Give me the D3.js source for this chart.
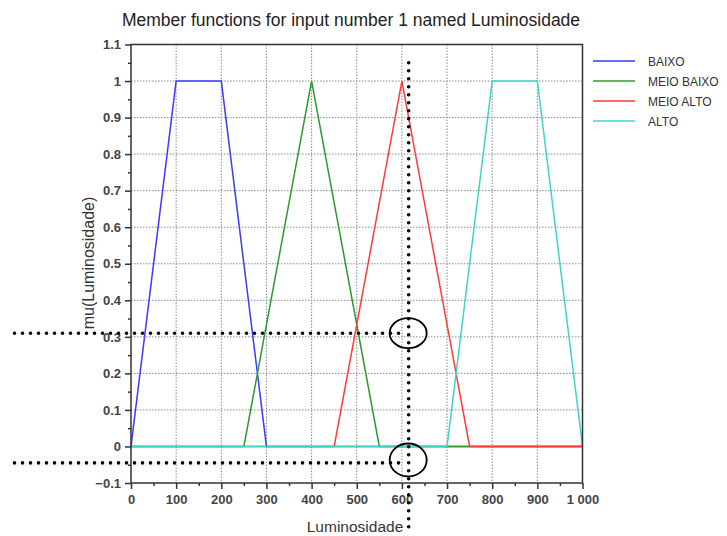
<!DOCTYPE html>
<html>
<head>
<meta charset="utf-8">
<script src="https://cdn.jsdelivr.net/npm/d3@7"></script>
<style>
  body { margin: 0; background: #fff; }
  svg { font-family: "Liberation Sans", Arial, sans-serif; }
</style>
</head>
<body>
<div id="chart"></div>
<script>
var width = 727,
    height = 536;

// member functions: breakpoints (x) and membership (mu)
var seriesNames = ["BAIXO", "MEIO BAIXO", "MEIO ALTO", "ALTO"];
var seriesColors = ["#3a3aff", "#2e9a2e", "#ff3a3a", "#3fd6c8"];
var baixoX = [0, 100, 200, 300, 1000],       baixoY = [0, 1, 1, 0, 0];
var meioBaixoX = [0, 250, 400, 550, 1000],   meioBaixoY = [0, 0, 1, 0, 0];
var meioAltoX = [0, 450, 600, 750, 1000],    meioAltoY = [0, 0, 1, 0, 0];
var altoX = [0, 700, 800, 900, 1000],        altoY = [0, 0, 1, 1, 0];

var xTicks = [0, 100, 200, 300, 400, 500, 600, 700, 800, 900, 1000];
var xTickLabels = ["0", "100", "200", "300", "400", "500", "600", "700", "800", "900", "1 000"];
var yTicks = [-0.1, 0, 0.1, 0.2, 0.3, 0.4, 0.5, 0.6, 0.7, 0.8, 0.9, 1, 1.1];

// hand drawn annotation (dotted guides + circles), in data units
var guideX = 615;
var guideYs = [0.31, -0.045];
var circleYs = [0.31, -0.037];

var margin = {left: 131, right: 144.5, top: 44.5, bottom: 53};

var svg = d3.select("#chart").append("svg")
    .attr("width", width)
    .attr("height", height);

var x = d3.scaleLinear().domain([0, 1000]).range([margin.left, width - margin.right]);
var y = d3.scaleLinear().domain([-0.1, 1.1]).range([height - margin.bottom, margin.top]);

var x0 = x(0), x1 = x(1000), y0 = y(-0.1), y1 = y(1.1);

/* Grid */
svg.append("g").selectAll("line")
    .data(xTicks.slice(1, -1))
    .enter().append("line")
    .attr("x1", function(d) { return x(d); })
    .attr("x2", function(d) { return x(d); })
    .attr("y1", y1).attr("y2", y0)
    .attr("stroke", "#8a8a8a")
    .attr("stroke-width", 1)
    .attr("stroke-dasharray", "1.5,1.5");

svg.append("g").selectAll("line")
    .data(yTicks.slice(1, -1))
    .enter().append("line")
    .attr("x1", x0).attr("x2", x1)
    .attr("y1", function(d) { return y(d); })
    .attr("y2", function(d) { return y(d); })
    .attr("stroke", "#8a8a8a")
    .attr("stroke-width", 1)
    .attr("stroke-dasharray", "1.5,1.5");

/* Curves */
var allSeries = [
    {x: baixoX, y: baixoY},
    {x: meioBaixoX, y: meioBaixoY},
    {x: meioAltoX, y: meioAltoY},
    {x: altoX, y: altoY}
];

var line = d3.line()
    .x(function(d) { return x(d[0]); })
    .y(function(d) { return y(d[1]); });

allSeries.forEach(function(s, i) {
    var pts = s.x.map(function(v, j) { return [v, s.y[j]]; });
    svg.append("path")
        .attr("d", line(pts))
        .attr("fill", "none")
        .attr("stroke", seriesColors[i])
        .attr("stroke-width", 1.5);
});

/* Axes */
var xAxis = d3.axisBottom(x)
    .tickValues(xTicks)
    .tickFormat(function(d, i) { return xTickLabels[i]; })
    .tickSize(6).tickPadding(6);
var xMinor = d3.axisBottom(x)
    .tickValues(d3.range(50, 1000, 100))
    .tickFormat("").tickSize(3);
var yAxis = d3.axisLeft(y)
    .tickValues(yTicks)
    .tickFormat(function(d) { return d3.format("")(+d.toFixed(1)); })
    .tickSize(6).tickPadding(4);
var yMinor = d3.axisLeft(y)
    .tickValues(d3.range(-0.05, 1.1, 0.1))
    .tickFormat("").tickSize(3);

function styleAxis(g) {
    g.select(".domain").remove();
    g.selectAll("line").attr("stroke", "#333").attr("stroke-width", 1.5);
    g.selectAll("text").attr("fill", "#444").style("font-size", "13px").style("font-weight", "bold");
}

svg.append("g").attr("transform", "translate(0," + y0 + ")").call(xAxis).call(styleAxis);
svg.append("g").attr("transform", "translate(0," + y0 + ")").call(xMinor).call(styleAxis);
svg.append("g").attr("transform", "translate(" + x0 + ",0)").call(yAxis).call(styleAxis);
svg.append("g").attr("transform", "translate(" + x0 + ",0)").call(yMinor).call(styleAxis);

// box
svg.append("rect")
    .attr("x", x0).attr("y", y1)
    .attr("width", x1 - x0).attr("height", y0 - y1)
    .attr("fill", "none")
    .attr("stroke", "#333")
    .attr("stroke-width", 1.5);

/* Titles */
svg.append("text")
    .attr("x", 351)
    .attr("y", 26)
    .attr("text-anchor", "middle")
    .style("font-size", "17.5px")
    .attr("fill", "#222")
    .text("Member functions for input number 1 named Luminosidade");

svg.append("text")
    .attr("x", 355)
    .attr("y", 532)
    .attr("text-anchor", "middle")
    .style("font-size", "15.5px")
    .attr("fill", "#333")
    .text("Luminosidade");

svg.append("text")
    .attr("transform", "translate(94,263) rotate(-90)")
    .attr("text-anchor", "middle")
    .style("font-size", "16px")
    .attr("fill", "#333")
    .text("mu(Luminosidade)");

/* Legend */
var legend = svg.append("g").selectAll("g")
    .data(seriesNames)
    .enter().append("g")
    .attr("transform", function(d, i) { return "translate(593," + (61 + i * 20) + ")"; });

legend.append("line")
    .attr("x1", 0).attr("x2", 42)
    .attr("stroke", function(d, i) { return seriesColors[i]; })
    .attr("stroke-width", 1.5);

legend.append("text")
    .attr("x", 55).attr("y", 4.5)
    .style("font-size", "12px")
    .attr("fill", "#333")
    .text(function(d) { return d; });

/* Annotation */
var dotted = svg.append("g")
    .attr("stroke", "#000")
    .attr("stroke-width", 3.6)
    .attr("stroke-linecap", "round")
    .attr("stroke-dasharray", "0,8");

dotted.append("line")
    .attr("x1", x(guideX)).attr("x2", x(guideX))
    .attr("y1", y(1.05)).attr("y2", y(-0.23));

dotted.selectAll(".h")
    .data(guideYs)
    .enter().append("line")
    .attr("class", "h")
    .attr("x1", x(-258)).attr("x2", x(600))
    .attr("y1", function(d) { return y(d); })
    .attr("y2", function(d) { return y(d); });

svg.append("g").selectAll("ellipse")
    .data(circleYs)
    .enter().append("ellipse")
    .attr("cx", x(guideX) - 0.5)
    .attr("cy", function(d) { return y(d); })
    .attr("rx", 18.5)
    .attr("ry", function(d, i) { return i === 0 ? 15 : 16.5; })
    .attr("fill", "none")
    .attr("stroke", "#000")
    .attr("stroke-width", 1.8);
</script>
</body>
</html>
